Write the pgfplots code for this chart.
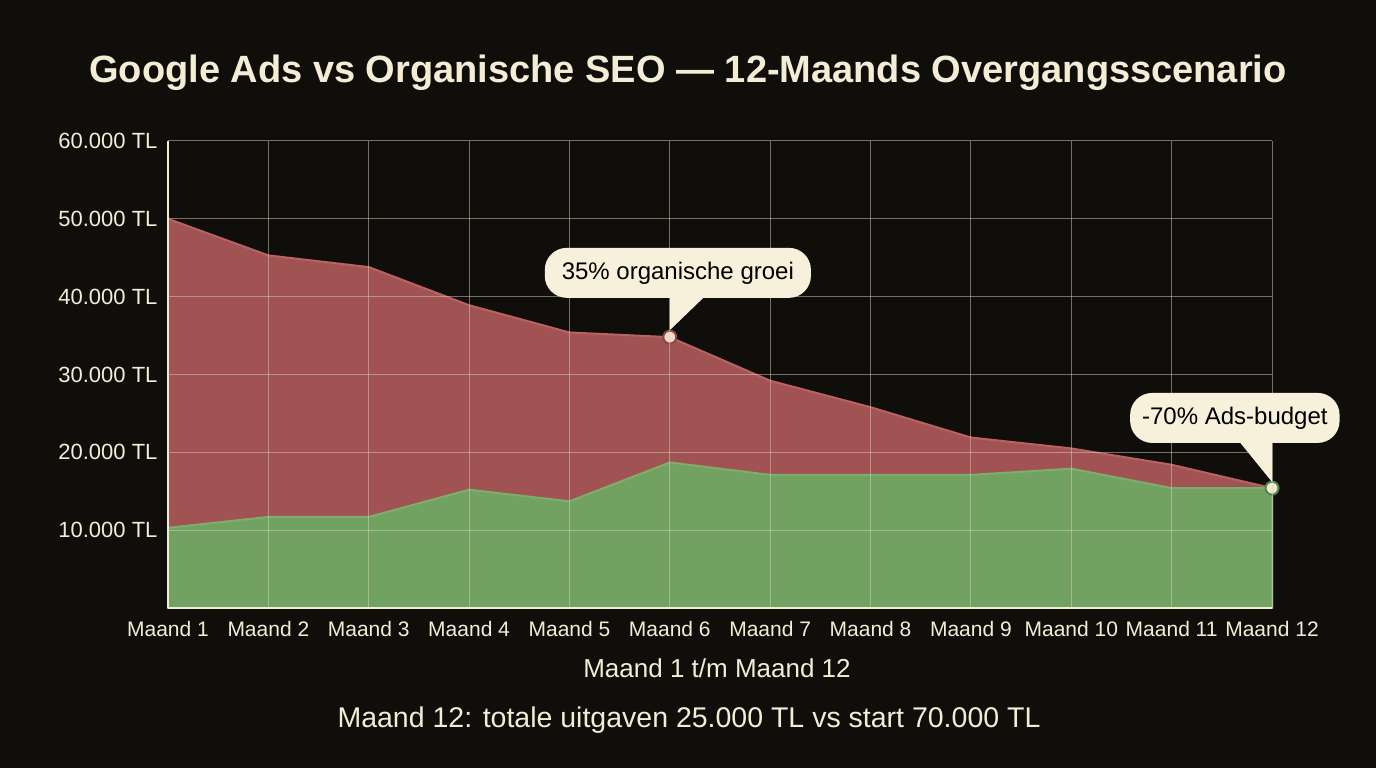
\documentclass[border=0pt]{standalone}
\usepackage{fontspec}
\setmainfont{Liberation Sans}
\usepackage{pgfplots}
\pgfplotsset{compat=1.18}

\definecolor{bgc}{HTML}{100E0B}
\definecolor{creamtxt}{HTML}{F3EDD6}
\definecolor{bubble}{HTML}{F7F1DB}
\definecolor{gridc}{HTML}{D8D2BE}
\definecolor{adsfill}{HTML}{A15353}
\definecolor{adsline}{HTML}{B86262}
\definecolor{seofill}{HTML}{72A262}
\definecolor{seoline}{HTML}{7DAE6C}

\begin{document}
\begin{tikzpicture}
\fill[bgc] (0,0) rectangle (1376bp,768bp);

\begin{axis}[
    at={(168bp,160bp)}, anchor=south west,
    width=1104bp, height=467bp, scale only axis,
    xmin=1, xmax=12, ymin=0, ymax=60000,
    set layers, axis on top, clip=false,
    axis lines*=left,
    x axis line style={creamtxt, line width=2.5bp},
    y axis line style={creamtxt, line width=1.5bp},
    xtick={1,...,12},
    xticklabels={Maand 1,Maand 2,Maand 3,Maand 4,Maand 5,Maand 6,Maand 7,Maand 8,Maand 9,Maand 10,Maand 11,Maand 12},
    ytick={10000,20000,30000,40000,50000,60000},
    yticklabels={10.000 TL,20.000 TL,30.000 TL,40.000 TL,50.000 TL,60.000 TL},
    scaled y ticks=false,
    major tick length=0,
    grid=major,
    major grid style={gridc, line width=1bp, opacity=0.5},
    xticklabel style={text=creamtxt, font=\fontsize{21bp}{25bp}\selectfont, yshift=-10bp},
    yticklabel style={text=creamtxt, font=\fontsize{22bp}{26bp}\selectfont, xshift=-7bp},
]

% Google Ads (top) line, filled to the axis
\addplot[draw=adsline, line width=2bp, fill=adsfill] coordinates {
    (1,50000) (2,45300) (3,43800) (4,38900) (5,35400) (6,34800)
    (7,29200) (8,25800) (9,21900) (10,20500) (11,18400) (12,15400)
} \closedcycle;

% Organische SEO
\addplot[draw=seoline, line width=2bp, fill=seofill] coordinates {
    (1,10300) (2,11700) (3,11700) (4,15200) (5,13700) (6,18700)
    (7,17100) (8,17100) (9,17100) (10,17900) (11,15400) (12,15400)
} \closedcycle;

% highlighted points
\addplot[only marks, mark=*, mark size=6.5bp, on layer=axis foreground,
    mark options={fill=bubble!85!adsline, draw=adsfill!85!black, line width=2bp}]
    coordinates {(6,34800)};
\addplot[only marks, mark=*, mark size=6.5bp, on layer=axis foreground,
    mark options={fill=bubble!90!seoline, draw=seofill!80!black, line width=2bp}]
    coordinates {(12,15400)};

% callouts
\begin{pgfonlayer}{axis foreground}
\fill[bubble] (axis cs:6,40300) -- (axis cs:6.37,40300) -- (axis cs:6,35700) -- cycle;
\node[fill=bubble, rounded corners=22bp, minimum height=50bp, inner xsep=17bp,
    text=black, font=\fontsize{24bp}{28bp}\selectfont]
    at (axis cs:6.08,43060) {35\% organische groei};
\fill[bubble] (axis cs:11.66,21600) -- (axis cs:12,21600) -- (axis cs:12,16200) -- cycle;
\node[fill=bubble, rounded corners=22bp, minimum height=50bp, inner xsep=12bp,
    text=black, font=\fontsize{24bp}{28bp}\selectfont]
    at (axis cs:11.63,24420) {-70\% Ads-budget};
\end{pgfonlayer}
\end{axis}

\node[text=creamtxt, font=\fontsize{38bp}{44bp}\selectfont\bfseries] at (688bp,695bp)
    {Google Ads vs Organische SEO — 12-Maands Overgangsscenario};
\node[text=creamtxt, font=\fontsize{26bp}{30bp}\selectfont] at (717bp,100bp)
    {Maand 1 t/m Maand 12};
\node[text=creamtxt, font=\fontsize{28.5bp}{32bp}\selectfont] at (689bp,48bp)
    {Maand 12: totale uitgaven 25.000 TL vs start 70.000 TL};
\end{tikzpicture}
\end{document}
